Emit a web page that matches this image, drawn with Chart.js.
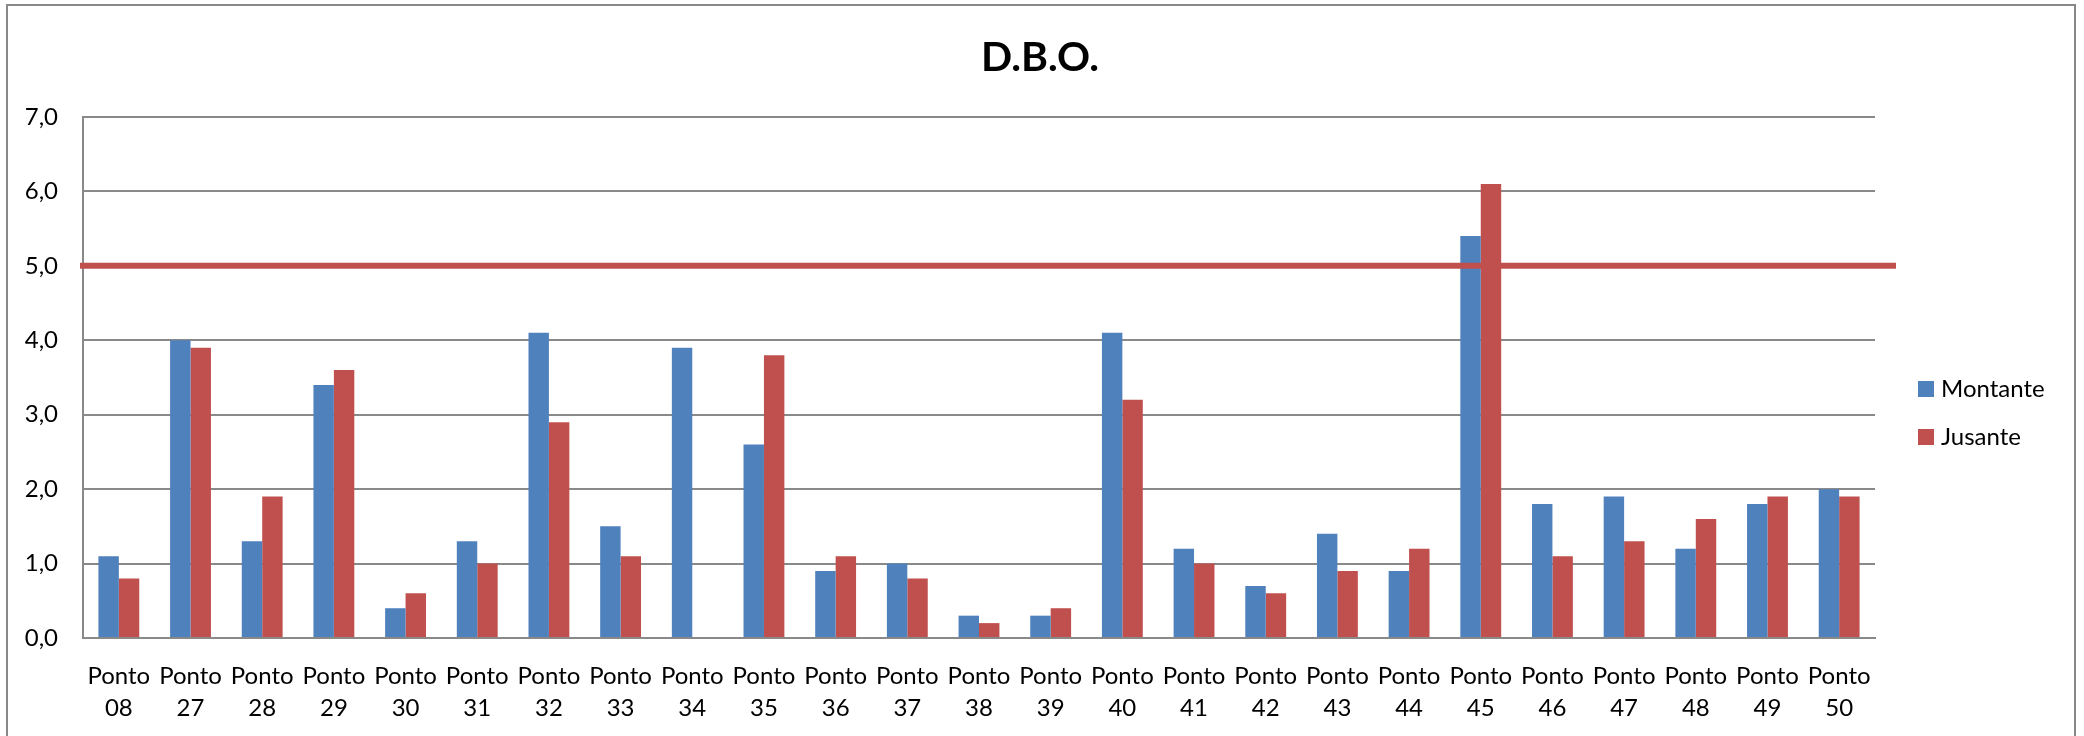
<!DOCTYPE html>
<html lang="pt">
<head>
<meta charset="utf-8">
<title>D.B.O.</title>
<script src="https://cdn.jsdelivr.net/npm/chart.js@4.4.0/dist/chart.umd.min.js"></script>
<style>
  html, body { margin: 0; padding: 0; background: #fff; }
  #wrap { position: relative; width: 2084px; height: 736px; overflow: hidden; }
  #moldura { position: absolute; left: 6px; top: 4px; width: 2070px; height: 800px; border: 2px solid #898989; box-sizing: border-box; }
  canvas { position: absolute; left: 0; top: 0; }
</style>
</head>
<body>
<div id="wrap">
  <div id="moldura"></div>
  <canvas id="chartDBO" width="2084" height="736"></canvas>
</div>
<script>
// -----------------------------
// Dados
// -----------------------------
const pontos = ['08', '27', '28', '29', '30', '31', '32', '33', '34', '35', '36', '37', '38',
                '39', '40', '41', '42', '43', '44', '45', '46', '47', '48', '49', '50'];
const montante = [1.1, 4.0, 1.3, 3.4, 0.4, 1.3, 4.1, 1.5, 3.9, 2.6, 0.9, 1.0, 0.3,
                  0.3, 4.1, 1.2, 0.7, 1.4, 0.9, 5.4, 1.8, 1.9, 1.2, 1.8, 2.0];
const jusante = [0.8, 3.9, 1.9, 3.6, 0.6, 1.0, 2.9, 1.1, null, 3.8, 1.1, 0.8, 0.2,
                 0.4, 3.2, 1.0, 0.6, 0.9, 1.2, 6.1, 1.1, 1.3, 1.6, 1.9, 1.9];
const yTicks = ['0,0', '1,0', '2,0', '3,0', '4,0', '5,0', '6,0', '7,0'];
const limite = 5.0; // limite da resolução
const titulo = 'D.B.O.';

const AZUL = '#4F81BD';
const VERMELHO = '#C0504D';
const CINZA = '#898989';
const FONTE = 'Lato';

// -----------------------------
// Título centralizado na largura toda (não só na área do gráfico)
// -----------------------------
const tituloCentro = {
    id: 'tituloCentro',
    afterDraw(chart) {
        const { ctx, width } = chart;
        ctx.save();
        ctx.font = 'bold 41px ' + FONTE;
        ctx.fillStyle = '#000';
        ctx.textAlign = 'center';
        ctx.textBaseline = 'alphabetic';
        ctx.fillText(titulo, width / 2 - 2, 71);
        ctx.restore();
    }
};

// -----------------------------
// Linha do limite (passa um pouco além da área do gráfico)
// -----------------------------
const linhaLimite = {
    id: 'linhaLimite',
    afterDatasetsDraw(chart) {
        const { ctx, chartArea, scales } = chart;
        const y = scales.y.getPixelForValue(limite);
        ctx.save();
        ctx.strokeStyle = VERMELHO;
        ctx.lineWidth = 6;
        ctx.beginPath();
        ctx.moveTo(chartArea.left - 3, y);
        ctx.lineTo(chartArea.right + 21, y);
        ctx.stroke();
        ctx.restore();
    }
};

// -----------------------------
// Legenda à direita
// -----------------------------
const legendaDireita = {
    id: 'legendaDireita',
    afterDraw(chart) {
        const { ctx, chartArea } = chart;
        const x = chartArea.right + 43;
        ctx.save();
        ctx.font = '24px ' + FONTE;
        ctx.textBaseline = 'middle';
        chart.data.datasets.forEach((ds, i) => {
            const y = 389 + i * 48;
            ctx.fillStyle = ds.backgroundColor;
            ctx.fillRect(x, y - 8, 16, 16);
            ctx.fillStyle = '#000';
            ctx.fillText(ds.label, x + 23, y);
        });
        ctx.restore();
    }
};

// -----------------------------
// Chart.js
// -----------------------------
const ctx = document.getElementById('chartDBO').getContext('2d');
new Chart(ctx, {
    type: 'bar',
    data: {
        labels: pontos.map(p => ['Ponto', p]),
        datasets: [
            { label: 'Montante', data: montante, backgroundColor: AZUL },
            { label: 'Jusante', data: jusante, backgroundColor: VERMELHO }
        ]
    },
    options: {
        responsive: false,
        animation: false,
        datasets: { bar: { categoryPercentage: 0.57, barPercentage: 1.0, borderWidth: 0 } },
        layout: { padding: { top: 117, left: 0, right: 209, bottom: 8 } },
        plugins: {
            legend: { display: false },
            tooltip: { enabled: false },
            title: { display: false }
        },
        scales: {
            x: {
                ticks: {
                    color: '#000',
                    padding: 23,
                    maxRotation: 0,
                    autoSkip: false,
                    font: { family: FONTE, size: 24, lineHeight: 1.3 }
                },
                grid: { display: false, drawTicks: false },
                border: { color: CINZA, width: 2 },
                afterFit(scale) { scale.height = 90; }
            },
            y: {
                min: 0,
                max: 7,
                ticks: {
                    stepSize: 1,
                    color: '#000',
                    padding: 25,
                    font: { family: FONTE, size: 24 },
                    callback: (v, i) => yTicks[i]
                },
                grid: { color: CINZA, lineWidth: 2, drawTicks: false },
                border: { color: CINZA, width: 2 },
                afterFit(scale) { scale.width = 83; }
            }
        }
    },
    plugins: [linhaLimite, legendaDireita, tituloCentro]
});
</script>
</body>
</html>
